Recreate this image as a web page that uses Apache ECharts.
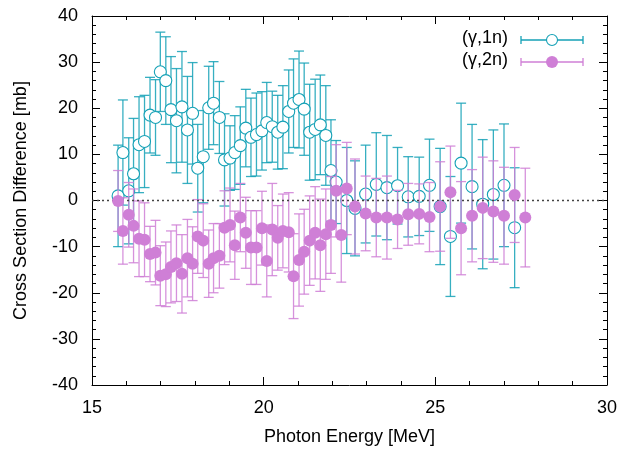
<!DOCTYPE html>
<html>
<head>
<meta charset="utf-8">
<script src="https://cdn.jsdelivr.net/npm/echarts@6/dist/echarts.min.js"></script>
<style>
html, body { margin: 0; padding: 0; background: #fff; }
#crossChart { width: 623px; height: 452px; }
</style>
</head>
<body>
<div id="crossChart"></div>
<script>
// (γ,1n) data: energy [MeV], cross section difference [mb], error [mb]
const energy1n = [15.76,15.90,16.07,16.21,16.37,16.53,16.69,16.85,16.99,17.15,17.30,17.46,17.62,17.78,17.93,18.08,18.24,18.40,18.54,18.71,18.86,19.02,19.16,19.32,19.48,19.63,19.79,19.95,20.09,20.25,20.41,20.56,20.73,20.87,21.03,21.18,21.34,21.50,21.65,21.81,21.96,22.11,22.42,22.66,22.97,23.28,23.59,23.90,24.21,24.53,24.83,25.14,25.44,25.75,26.07,26.38,26.69,27.00,27.31]
const value1n = [1.0,10.4,2.1,5.8,12.1,12.8,18.5,18.0,27.9,26.0,19.7,17.3,20.3,15.3,18.9,7.0,9.5,20.1,21.1,18.0,8.8,9.2,10.4,11.9,15.7,13.7,14.3,15.1,16.9,16.0,14.8,15.9,19.3,21.1,21.9,19.8,14.8,15.4,16.4,14.1,6.5,4.0,0.0,-1.7,1.4,3.5,2.8,3.2,0.8,0.9,3.3,-1.3,-7.8,8.1,3.0,-0.8,1.3,3.3,-5.9]
const error1n = [11,11.4,11.5,12,10.4,10,8.2,8.2,8.6,9.5,11.5,11.3,12,11.6,11,9.5,10,9,9,7.8,10,7,8,8.4,8.4,8.5,9,8.5,8.7,7.7,8,9,9,9.6,10.5,10,10.4,10.9,10.8,10.8,11,9,11.5,10.3,10.6,11.2,11.3,8.3,8.7,8.5,10,12.6,13,13,13.5,14,14,13.3,13]

// (γ,2n) data
const energy2n = [15.76,15.90,16.07,16.21,16.37,16.53,16.69,16.85,16.99,17.15,17.30,17.46,17.62,17.78,17.93,18.08,18.24,18.40,18.54,18.71,18.86,19.02,19.16,19.32,19.48,19.63,19.79,19.95,20.09,20.25,20.41,20.56,20.73,20.87,21.03,21.18,21.34,21.50,21.65,21.81,21.96,22.11,22.26,22.42,22.66,22.97,23.28,23.59,23.90,24.21,24.53,24.83,25.14,25.44,25.75,26.07,26.38,26.69,27.00,27.31,27.62]
const value2n = [-0.1,-6.6,-3.1,-5.5,-8.3,-8.5,-11.6,-11.3,-16.3,-16.0,-14.4,-13.6,-15.9,-12.5,-13.7,-7.8,-8.7,-13.7,-12.5,-12.0,-5.9,-5.3,-9.7,-3.7,-7.0,-10.2,-10.2,-6.0,-13.1,-6.3,-8.1,-6.6,-6.9,-16.4,-12.9,-11.1,-8.7,-7.0,-9.7,-7.3,-5.3,2.1,-7.5,2.6,-1.3,-2.8,-3.7,-3.7,-4.1,-3.0,-2.9,-3.6,-1.3,1.8,-6.0,-3.3,-1.6,-2.4,-3.3,1.2,-3.7]
const error2n = [6.6,7.2,7,8,8.2,8,6,7,6.5,7,7.8,8.3,8.5,8.4,8,8,8,7.3,7.5,7,8,8,7.4,7.4,7.7,8,8,8,7.8,10,7,8,8.6,9.2,10,9.2,9.7,10,10,9.8,10.5,10,10.2,10,10.3,8.1,8.5,9,6.3,6.7,6.5,7.5,9.7,10,10.1,10,11,11,10.5,10.3,10.7]

const xTicks = [15, 20, 25, 30]
const yTicks = [-40, -30, -20, -10, 0, 10, 20, 30, 40]

const color1n = '#14a1b6'
const color2n = '#cf7fd6'
const font = 'Liberation Sans, Arial, sans-serif'

function zip(xs, ys, es) {
  let out = []
  for (let i = 0; i < xs.length; i++) {
    out.push([xs[i], ys[i], es[i]])
  }
  return out
}

function errorBars(color) {
  return function (params, api) {
    let x = api.value(0), y = api.value(1), e = api.value(2)
    let top = api.coord([x, y + e])
    let bot = api.coord([x, y - e])
    let hw = 5
    let style = { stroke: color, lineWidth: 1.3, opacity: 0.85 }
    return {
      type: 'group',
      children: [
        { type: 'line', shape: { x1: top[0], y1: top[1], x2: bot[0], y2: bot[1] }, style: style },
        { type: 'line', shape: { x1: top[0] - hw, y1: top[1], x2: top[0] + hw, y2: top[1] }, style: style },
        { type: 'line', shape: { x1: bot[0] - hw, y1: bot[1], x2: bot[0] + hw, y2: bot[1] }, style: style }
      ]
    }
  }
}

// legend sample: text + error bar line + point
function legendRow(y, label, color, filled) {
  let s = { stroke: color, lineWidth: 1.3 }
  return [
    { type: 'text', right: 115, top: y - 11, style: { text: label, font: '18px ' + font, fill: '#000' } },
    { type: 'line', shape: { x1: 521, y1: y, x2: 583, y2: y }, style: s },
    { type: 'line', shape: { x1: 521, y1: y - 4, x2: 521, y2: y + 4 }, style: s },
    { type: 'line', shape: { x1: 583, y1: y - 4, x2: 583, y2: y + 4 }, style: s },
    filled
      ? { type: 'circle', shape: { cx: 552, cy: y, r: 6 }, style: { fill: color } }
      : { type: 'circle', shape: { cx: 552, cy: y, r: 5.5 }, style: { fill: '#fff', stroke: color, lineWidth: 1.1 } }
  ]
}

const axisCommon = {
  axisLine: { show: true, onZero: false, lineStyle: { color: '#000', width: 1 } },
  axisTick: { show: true, inside: true, length: 8, lineStyle: { color: '#000' } },
  minorTick: { show: true, splitNumber: 5, length: 4, lineStyle: { color: '#000' } },
  splitLine: { show: false }
}

let myChart = echarts.init(document.getElementById('crossChart'))
myChart.setOption({
  animation: false,
  textStyle: { fontFamily: font },
  grid: { left: 92, right: 16, top: 16, bottom: 67 },
  xAxis: [
    Object.assign({
      type: 'value', min: xTicks[0], max: xTicks[xTicks.length - 1], interval: 5,
      name: 'Photon Energy [MeV]', nameLocation: 'middle', nameGap: 43,
      nameTextStyle: { fontSize: 18, color: '#000', fontFamily: font },
      axisLabel: { fontSize: 18, color: '#000', margin: 14, fontFamily: font }
    }, axisCommon),
    Object.assign({
      type: 'value', position: 'top', min: xTicks[0], max: xTicks[xTicks.length - 1], interval: 5,
      axisLabel: { show: false }
    }, axisCommon)
  ],
  yAxis: [
    Object.assign({
      type: 'value', min: yTicks[0], max: yTicks[yTicks.length - 1], interval: 10,
      name: 'Cross Section Difference [mb]', nameLocation: 'middle', nameGap: 62,
      nameTextStyle: { fontSize: 18, color: '#000', fontFamily: font },
      axisLabel: { fontSize: 18, color: '#000', margin: 14, fontFamily: font }
    }, axisCommon),
    Object.assign({
      type: 'value', position: 'right', min: yTicks[0], max: yTicks[yTicks.length - 1], interval: 10,
      axisLabel: { show: false }
    }, axisCommon)
  ],
  graphic: legendRow(40, '(γ,1n)', color1n, false).concat(legendRow(62, '(γ,2n)', color2n, true)),
  series: [
    {
      type: 'custom',
      renderItem: errorBars(color1n),
      data: zip(energy1n, value1n, error1n),
      z: 2,
      markLine: {
        silent: true, symbol: 'none', label: { show: false },
        lineStyle: { color: '#444', type: [2, 3], width: 1.3 },
        data: [{ yAxis: 0 }]
      }
    },
    {
      type: 'scatter',
      data: zip(energy1n, value1n, error1n),
      symbol: 'circle', symbolSize: 12,
      itemStyle: { color: '#fff', borderColor: color1n, borderWidth: 1.1, opacity: 1 },
      z: 3
    },
    {
      type: 'custom',
      renderItem: errorBars(color2n),
      data: zip(energy2n, value2n, error2n),
      z: 4
    },
    {
      type: 'scatter',
      data: zip(energy2n, value2n, error2n),
      symbol: 'circle', symbolSize: 12,
      itemStyle: { color: color2n, opacity: 1 },
      z: 5
    }
  ]
})
</script>
</body>
</html>
